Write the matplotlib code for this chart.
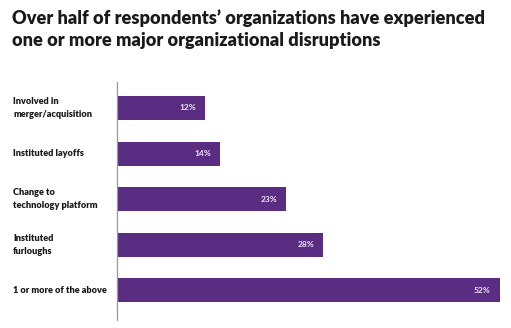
import matplotlib.pyplot as plt
from matplotlib.transforms import offset_copy

categories = ['Involved in\nmerger/acquisition', 'Instituted layoffs',
              'Change to\ntechnology platform', 'Instituted\nfurloughs',
              '1 or more of the above']
values = [12, 14, 23, 28, 52]
title = ('Over half of respondents\u2019 organizations have experienced\n'
         'one or more major organizational disruptions')

bar_color = '#5a2d82'
plt.rcParams['font.family'] = ['Lato', 'DejaVu Sans']

fig = plt.figure(figsize=(5.11, 3.28), dpi=100)
fig.patch.set_facecolor('white')
ax = fig.add_axes([117 / 511, 1 - 320 / 328, 390 / 511, 238 / 328])

ypos = list(range(len(values)))
ax.barh(ypos, values, height=0.53, color=bar_color)
ax.set_xlim(0, 53)
ax.set_ylim(4.65, -0.57)

for y, v in zip(ypos, values):
    ax.text(v, y, f'{v}%', transform=offset_copy(ax.transData, fig, x=-9, y=0, units='dots'),
            ha='right', va='center', fontsize=6, fontweight='bold', color='#ede4f5')

for y, c in zip(ypos, categories):
    ax.annotate(c, xy=(0, y), xycoords=('figure fraction', 'data'),
                xytext=(13, 0), textcoords='offset pixels',
                ha='left', va='center', fontsize=6.6, fontweight='heavy',
                color='#1a1a1a', linespacing=1.6)

for s in ['top', 'right', 'bottom']:
    ax.spines[s].set_visible(False)
ax.spines['left'].set_color('#999999')
ax.spines['left'].set_linewidth(0.9)
ax.set_xticks([])
ax.set_yticks([])

fig.text(12 / 511, 1 - 9 / 328, title, ha='left', va='top', fontsize=13.1,
         fontweight='heavy', color='#1a1a1a', linespacing=1.38)

fig.savefig('out.png', dpi=100)
